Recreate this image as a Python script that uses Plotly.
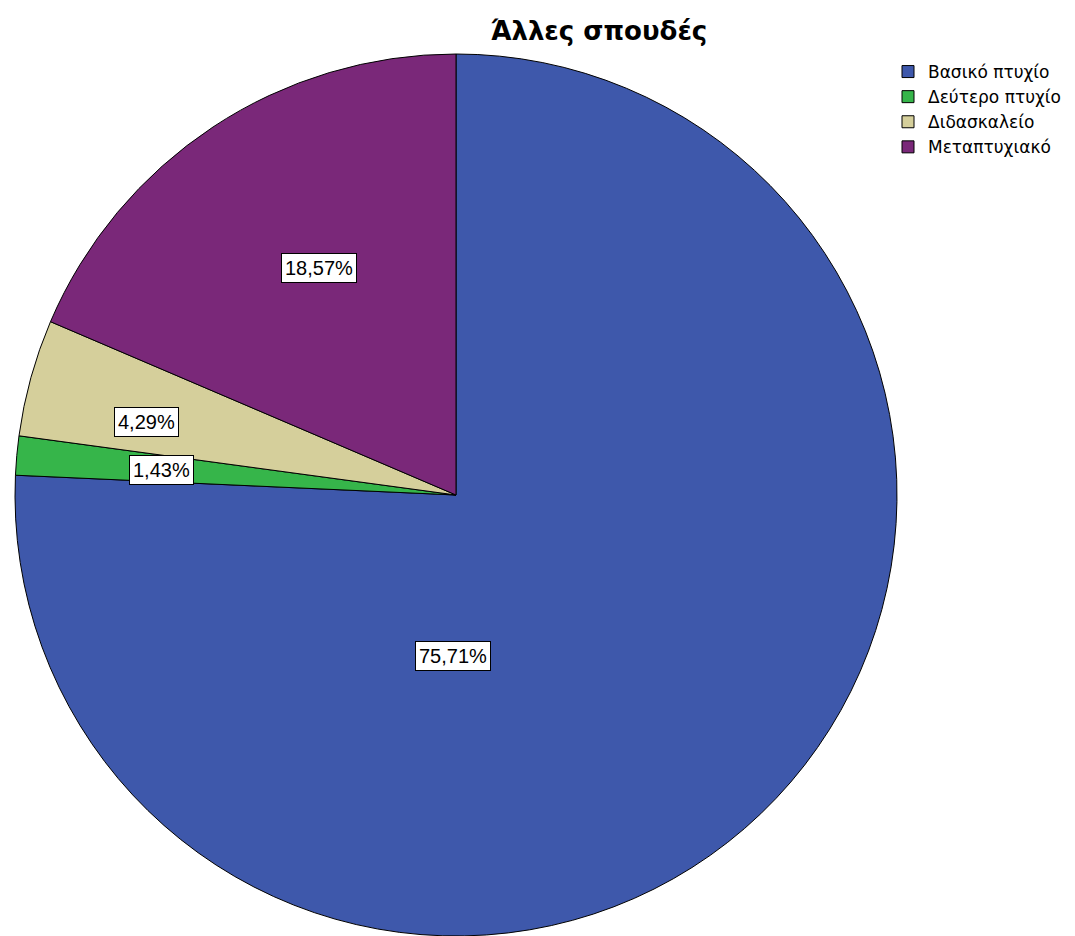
import plotly.graph_objects as go

# Data
categories = ["Βασικό πτυχίο", "Δεύτερο πτυχίο", "Διδασκαλείο", "Μεταπτυχιακό"]
counts = [53, 1, 3, 13]
colors = ["#3e58ab", "#36b54a", "#d5cf9b", "#7a2879"]
title_text = "Άλλες σπουδές"

W, H = 1075, 936
total = sum(counts)
pct_labels = [f"{100 * c / total:.2f}%".replace(".", ",") for c in counts]

# Layout: label box centres (pixels)
label_px = [(453, 656), (161, 470), (146, 422), (319, 268)]

# Pie geometry (pixels)
cx, top, bottom = 456, 54, 936
r = (bottom - top) / 2

fig = go.Figure(go.Pie(
    labels=categories,
    values=counts,
    sort=False,
    direction="clockwise",
    rotation=0,
    marker=dict(colors=colors, line=dict(color="#000000", width=1)),
    textinfo="none",
    hoverinfo="label+percent",
    domain=dict(x=[(cx - r) / W, (cx + r) / W], y=[1 - bottom / H, 1 - top / H]),
))

annotations = []
for (px, py), t in zip(label_px, pct_labels):
    annotations.append(dict(
        x=px / W, y=1 - py / H, xref="paper", yref="paper",
        text=t, showarrow=False,
        font=dict(family="Liberation Sans, Arial, sans-serif", size=20, color="#000000"),
        bgcolor="#ffffff", bordercolor="#000000", borderwidth=1, borderpad=3,
        xanchor="center", yanchor="middle",
    ))

fig.update_layout(
    width=W, height=H,
    margin=dict(l=0, r=0, t=0, b=0),
    paper_bgcolor="#ffffff",
    plot_bgcolor="#ffffff",
    title=dict(
        text=f"<b>{title_text}</b>",
        x=599 / W, y=1 - 31 / H, xanchor="center", yanchor="middle",
        font=dict(family="DejaVu Sans, sans-serif", size=26, color="#000000"),
    ),
    legend=dict(
        x=888 / W, y=1 - 54 / H, xanchor="left", yanchor="top",
        font=dict(family="DejaVu Sans, sans-serif", size=17, color="#000000"),
        bgcolor="rgba(0,0,0,0)", tracegroupgap=0, itemwidth=30,
    ),
    annotations=annotations,
)

fig.write_html("out.html")
